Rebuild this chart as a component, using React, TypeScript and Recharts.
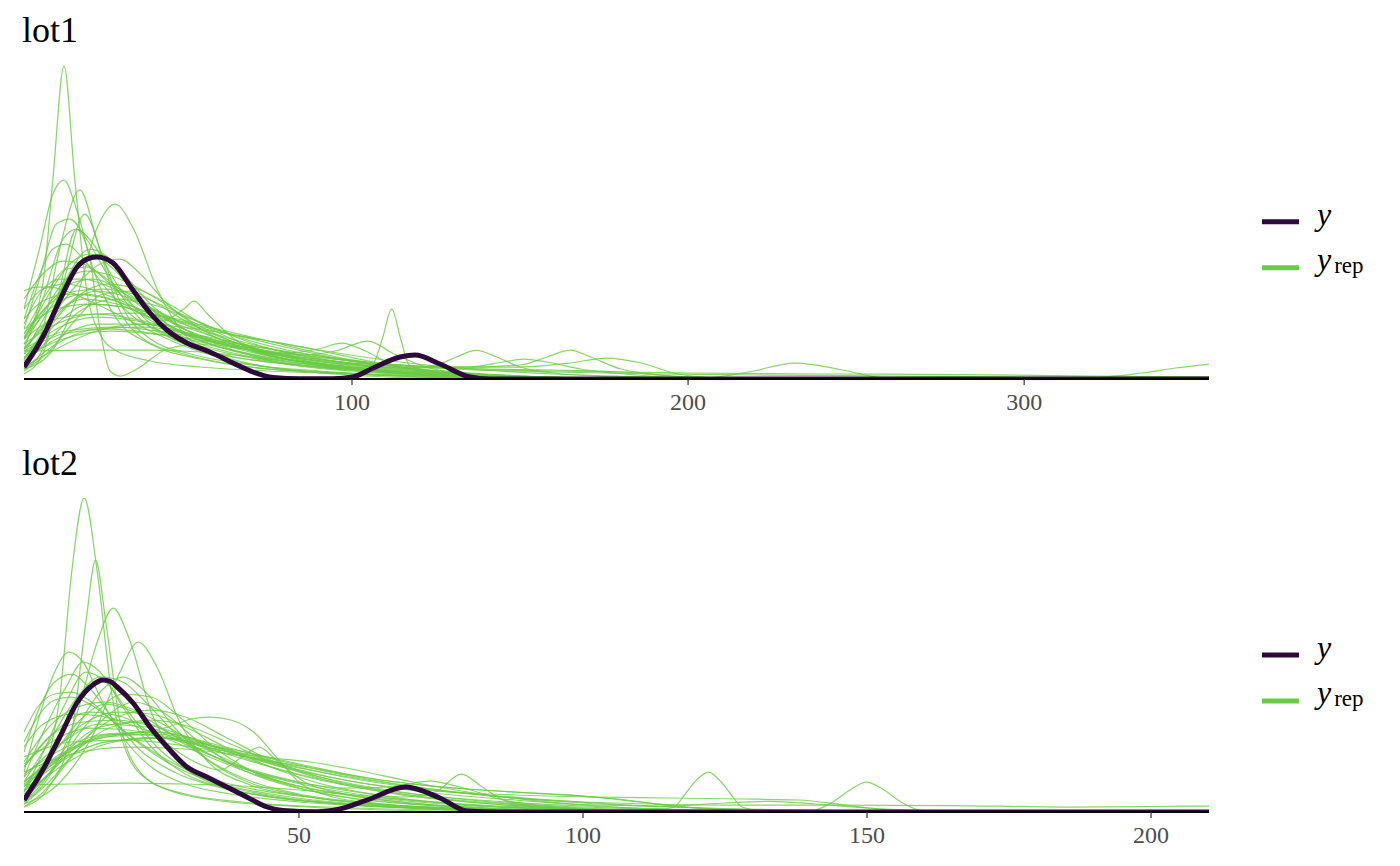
import React from 'react';
import { LineChart, Line, XAxis, YAxis } from 'recharts';

type Pt = [number, number];

const SERIF = '"Liberation Serif", "Times New Roman", serif';
const Y_COLOR = '#2E0A3C';
const REP_COLOR = '#6CCB45';

// panel titles
const panelTitles = ['lot1', 'lot2'];

// x-axis ticks and ranges
const lot1Ticks = [100, 200, 300];
const lot2Ticks = [50, 100, 150, 200];
const lot1Range: [number, number] = [2.4, 355];
const lot2Range: [number, number] = [1.6, 210.2];
const densityTop = 314; // scaled density units

// observed y density, lot1
const lot1Y: Pt[] = [
  [2.4, 12], [8, 42], [13.1, 79], [18.2, 112], [22, 121], [24.1, 122], [26.5, 120.5], [28.9, 116], [34.8, 89], [39.9, 66],
  [44.9, 49], [50.9, 36], [57.7, 27], [64.6, 16], [70.5, 7], [76.5, 1.5], [84.5, 0.3], [94.3, 0.3],
  [100.3, 2], [106.3, 11], [114.3, 22], [118.75, 24], [126.2, 15], [135.1, 2], [141, 0], [200, 0], [355, 0],
];

// replicated densities, lot1
const lot1Rep: Pt[][] = [
  [[2.4, 40], [8, 95], [11, 200], [14.3, 313], [17.5, 200], [21, 90], [25, 45], [30, 28], [40, 18], [55, 12], [75, 8], [100, 5], [130, 2], [170, 0.5], [355, 0]],
  [[2.4, 70], [7, 130], [11, 185], [14.3, 199], [18, 170], [23, 110], [30, 60], [40, 35], [55, 20], [75, 10], [100, 6], [130, 2], [160, 0], [355, 0]],
  [[2.4, 20], [8, 50], [13, 130], [19, 189], [24, 140], [30, 75], [38, 40], [50, 25], [70, 12], [95, 6], [120, 2], [150, 0], [355, 0]],
  [[2.4, 10], [10, 25], [18, 80], [24, 150], [29.5, 175], [35, 150], [42, 90], [50, 45], [60, 25], [75, 12], [95, 5], [120, 1], [150, 0], [355, 0]],
  [[2.4, 28], [20, 29], [40, 29], [55, 27], [65, 24], [80, 18], [100, 10], [130, 3], [160, 1], [200, 0], [355, 0]],
  [[2.4, 88], [6, 92], [10, 92], [15, 88], [22, 78], [30, 65], [40, 48], [50, 33], [60, 22], [75, 12], [95, 6], [120, 2], [150, 0], [355, 0]],
  [[2.4, 30], [8, 80], [14, 140], [18, 150], [23, 135], [30, 95], [40, 55], [50, 35], [65, 22], [85, 14], [105, 8], [130, 3], [160, 0], [355, 0]],
  [[2.4, 50], [7, 100], [12, 155], [16, 160], [21, 140], [28, 100], [37, 60], [48, 38], [60, 25], [80, 15], [100, 9], [125, 4], [160, 0], [355, 0]],
  [[2.4, 15], [8, 45], [15, 100], [22, 130], [28, 120], [35, 90], [45, 55], [58, 35], [75, 20], [95, 12], [115, 6], [140, 2], [170, 0], [355, 0]],
  [[2.4, 60], [6, 95], [11, 130], [15, 135], [20, 120], [27, 90], [35, 62], [45, 45], [58, 30], [75, 18], [95, 10], [120, 4], [150, 0], [355, 0]],
  [[2.4, 40], [9, 80], [16, 115], [22, 125], [29, 110], [37, 80], [47, 55], [60, 38], [78, 22], [100, 12], [120, 6], [145, 2], [180, 0], [355, 0]],
  [[2.4, 80], [8, 105], [14, 118], [20, 115], [27, 100], [35, 78], [45, 55], [55, 38], [70, 25], [90, 15], [110, 8], [135, 3], [165, 0], [355, 0]],
  [[2.4, 25], [10, 70], [18, 110], [25, 125], [32, 105], [40, 75], [50, 50], [62, 32], [80, 18], [100, 10], [125, 4], [160, 0], [355, 0]],
  [[2.4, 55], [7, 85], [13, 100], [20, 100], [28, 92], [38, 75], [50, 55], [62, 38], [78, 22], [98, 12], [120, 6], [150, 2], [190, 0], [355, 0]],
  [[2.4, 70], [8, 90], [15, 95], [22, 90], [30, 80], [40, 65], [52, 50], [65, 36], [82, 22], [100, 13], [125, 6], [155, 2], [200, 0], [355, 0]],
  [[2.4, 10], [8, 30], [14, 95], [20.5, 165], [26, 120], [32, 70], [40, 40], [52, 25], [70, 14], [90, 8], [115, 3], [150, 0], [355, 0]],
  [[2.4, 35], [8, 65], [15, 100], [21, 108], [27, 105], [34, 95], [42, 80], [52, 58], [64, 38], [80, 22], [100, 12], [125, 5], [160, 1], [200, 0], [355, 0]],
  [[2.4, 45], [10, 75], [18, 88], [26, 90], [35, 85], [46, 70], [58, 52], [72, 34], [90, 20], [110, 11], [135, 5], [170, 1], [220, 0], [355, 0]],
  [[2.4, 20], [10, 55], [18, 82], [27, 95], [36, 90], [46, 74], [58, 50], [72, 30], [90, 16], [110, 9], [135, 4], [170, 0], [355, 0]],
  [[2.4, 5], [8, 25], [13, 90], [18, 150], [22, 120], [25, 50], [28, 8], [31, 3], [36, 10], [45, 30], [55, 35], [65, 28], [80, 15], [100, 8], [125, 3], [160, 0], [355, 0]],
  [[2.4, 30], [9, 55], [17, 90], [25, 115], [31, 120], [37, 105], [45, 75], [55, 50], [68, 30], [85, 17], [105, 9], [130, 3], [170, 0], [355, 0]],
  [[2.4, 45], [9, 85], [15, 110], [21, 112], [28, 95], [36, 70], [43, 58], [50, 70], [53, 78], [57, 65], [65, 40], [78, 22], [95, 12], [115, 6], [140, 2], [180, 0], [355, 0]],
  [[2.4, 35], [12, 55], [24, 65], [36, 66], [48, 60], [60, 50], [75, 38], [90, 26], [105, 16], [125, 8], [150, 3], [190, 0], [355, 0]],
  [[2.4, 50], [12, 70], [22, 75], [32, 72], [44, 62], [56, 52], [70, 40], [88, 26], [105, 15], [125, 8], [150, 3], [190, 0], [355, 0]],
  [[2.4, 15], [10, 40], [20, 70], [30, 80], [40, 75], [52, 60], [66, 42], [82, 28], [100, 18], [120, 10], [145, 4], [180, 0], [355, 0]],
  [[2.4, 30], [10, 60], [20, 80], [30, 75], [42, 58], [55, 40], [68, 30], [80, 26], [90, 30], [97, 36], [104, 28], [112, 14], [125, 6], [150, 2], [190, 0], [355, 0]],
  [[2.4, 20], [12, 55], [22, 75], [32, 72], [44, 55], [58, 38], [72, 28], [85, 24], [95, 28], [104.8, 38], [112, 26], [122, 12], [135, 5], [160, 1], [200, 0], [355, 0]],
  [[2.4, 40], [10, 70], [20, 85], [30, 78], [42, 55], [55, 35], [70, 22], [85, 14], [98, 10], [106, 14], [109, 40], [111.8, 70], [114.5, 40], [117, 14], [125, 7], [140, 3], [170, 0], [355, 0]],
  [[2.4, 25], [12, 50], [24, 62], [36, 58], [50, 45], [66, 32], [82, 22], [100, 15], [115, 11], [125, 14], [131, 22], [137, 28.6], [143, 22], [150, 12], [160, 6], [180, 2], [220, 0], [355, 0]],
  [[2.4, 18], [12, 40], [24, 55], [38, 55], [52, 45], [68, 32], [85, 22], [100, 16], [118, 13], [135, 12], [150, 14], [158, 22], [164.9, 29], [171, 22], [180, 10], [195, 3], [220, 0], [355, 0]],
  [[2.4, 40], [12, 60], [24, 65], [38, 58], [52, 44], [68, 30], [85, 20], [100, 14], [118, 11], [135, 12], [145, 17], [151, 20], [158, 17], [168, 10], [185, 4], [210, 0], [355, 0]],
  [[2.4, 10], [12, 35], [24, 50], [38, 52], [54, 44], [72, 32], [90, 22], [110, 15], [130, 12], [150, 12], [165, 16], [175.8, 21], [186, 16], [197, 5], [210, 1], [230, 0], [355, 0]],
  [[2.4, 28], [14, 45], [28, 50], [44, 44], [60, 34], [80, 24], [100, 16], [120, 12], [140, 10], [160, 9], [180, 7], [195, 3], [205, 1], [218, 7], [232, 16], [246, 9], [258, 1], [270, 0], [355, 0]],
  [[2.4, 22], [14, 40], [28, 48], [44, 44], [62, 35], [82, 25], [105, 16], [130, 10], [160, 7], [190, 5], [220, 4], [260, 3], [300, 2], [322, 2], [335, 6], [345, 11], [355, 15]],
  [[2.4, 30], [15, 48], [30, 52], [46, 46], [64, 36], [84, 26], [105, 17], [130, 11], [160, 8], [200, 6], [240, 5], [280, 4.5], [320, 3], [355, 2]],
  [[2.4, 12], [12, 30], [24, 48], [38, 55], [54, 50], [72, 40], [92, 28], [112, 18], [135, 10], [160, 5], [190, 2], [230, 0], [355, 0]],
  [[2.4, 60], [8, 78], [16, 85], [25, 82], [35, 72], [47, 58], [60, 44], [76, 30], [95, 18], [115, 10], [140, 4], [180, 0], [355, 0]],
  [[2.4, 8], [10, 28], [18, 60], [26, 85], [34, 88], [42, 75], [52, 55], [64, 38], [80, 24], [100, 14], [122, 7], [150, 2], [190, 0], [355, 0]],
  [[2.4, 42], [9, 72], [16, 95], [23, 100], [31, 90], [40, 70], [50, 50], [62, 34], [78, 21], [98, 12], [120, 5], [150, 1], [185, 0], [355, 0]],
  [[2.4, 20], [10, 52], [17, 78], [24, 88], [31, 84], [40, 70], [51, 55], [63, 45], [75, 38], [88, 30], [102, 20], [118, 10], [140, 3], [170, 0], [355, 0]],
];

// observed y density, lot2
const lot2Y: Pt[] = [
  [1.6, 12], [4.9, 42], [7.9, 75], [10.9, 109], [13.7, 127], [15.5, 132], [16.8, 130.5], [18, 125], [20.8, 109],
  [23.8, 85], [26.8, 65], [30.3, 45], [33.8, 35], [37.3, 25], [40.8, 15], [44.4, 5], [47.2, 1.5],
  [53.2, 0.3], [57.2, 3], [62, 12], [68.8, 25], [74.8, 14], [79.6, 1], [85, 0], [150, 0], [210.2, 0],
];

// replicated densities, lot2
const lot2Rep: Pt[][] = [
  [[1.6, 15], [5, 40], [8, 120], [10, 240], [12.2, 314], [14.5, 240], [17, 120], [20, 55], [24, 30], [30, 18], [40, 10], [55, 5], [75, 2], [100, 0], [210.2, 0]],
  [[1.6, 5], [6, 25], [10, 80], [12.5, 190], [14.2, 252], [16, 190], [18.5, 90], [22, 40], [27, 22], [35, 12], [48, 6], [65, 2], [90, 0], [210.2, 0]],
  [[1.6, 10], [6, 35], [11, 100], [14.5, 170], [17.3, 204], [20, 175], [24, 100], [29, 50], [35, 28], [45, 15], [60, 7], [80, 2], [100, 0], [210.2, 0]],
  [[1.6, 8], [8, 30], [14, 80], [18.5, 140], [21.7, 170], [25, 145], [29, 90], [34, 50], [41, 28], [52, 15], [68, 6], [90, 1], [110, 0], [210.2, 0]],
  [[1.6, 30], [8, 55], [15, 75], [22, 80], [27, 85], [31, 93], [34.3, 95], [38, 92], [42, 80], [46, 55], [50, 30], [56, 15], [65, 8], [80, 3], [100, 0], [210.2, 0]],
  [[1.6, 45], [7, 80], [13, 100], [19, 95], [25, 75], [31, 52], [36, 42], [40, 55], [43, 65], [46, 52], [51, 30], [58, 18], [68, 10], [82, 4], [100, 0], [210.2, 0]],
  [[1.6, 27], [10, 28], [20, 29], [30, 28], [40, 26], [50, 22], [60, 17], [72, 11], [85, 6], [100, 3], [125, 1], [150, 0], [210.2, 0]],
  [[1.6, 40], [4, 90], [7, 140], [9.5, 160], [12, 150], [15, 115], [19, 75], [24, 45], [30, 28], [38, 18], [50, 10], [65, 5], [85, 1], [110, 0], [210.2, 0]],
  [[1.6, 60], [4, 100], [7, 130], [10, 138], [13, 125], [17, 95], [22, 62], [28, 40], [35, 26], [45, 15], [60, 7], [80, 2], [100, 0], [210.2, 0]],
  [[1.6, 20], [5, 60], [9, 110], [12.5, 140], [16, 130], [20, 100], [25, 65], [31, 40], [38, 25], [48, 14], [62, 7], [80, 2], [100, 0], [210.2, 0]],
  [[1.6, 80], [4, 105], [7, 118], [10, 120], [13, 112], [17, 92], [22, 68], [28, 46], [35, 30], [45, 18], [60, 8], [80, 3], [105, 0], [210.2, 0]],
  [[1.6, 30], [6, 70], [11, 115], [15, 135], [19, 130], [23, 110], [28, 80], [34, 52], [41, 32], [50, 18], [62, 9], [80, 3], [100, 0], [210.2, 0]],
  [[1.6, 50], [6, 85], [11, 105], [16, 110], [21, 102], [26, 88], [32, 68], [39, 48], [47, 30], [57, 18], [70, 9], [88, 3], [110, 0], [210.2, 0]],
  [[1.6, 15], [7, 45], [13, 90], [19, 118], [24, 115], [29, 95], [35, 65], [42, 40], [50, 24], [60, 13], [75, 6], [95, 1], [115, 0], [210.2, 0]],
  [[1.6, 65], [5, 88], [10, 98], [15, 96], [20, 88], [26, 75], [33, 58], [41, 40], [50, 26], [62, 15], [78, 7], [98, 2], [120, 0], [210.2, 0]],
  [[1.6, 25], [6, 55], [12, 88], [18, 100], [24, 98], [30, 85], [37, 65], [45, 45], [54, 28], [65, 16], [80, 7], [100, 2], [125, 0], [210.2, 0]],
  [[1.6, 10], [5, 30], [10, 75], [15, 120], [19, 135], [23, 120], [28, 85], [34, 52], [41, 30], [50, 17], [62, 8], [80, 2], [100, 0], [210.2, 0]],
  [[1.6, 45], [6, 75], [12, 90], [18, 92], [25, 85], [32, 72], [40, 55], [48, 40], [57, 28], [68, 18], [82, 10], [100, 4], [125, 1], [150, 0], [210.2, 0]],
  [[1.6, 35], [5, 80], [9, 125], [12, 150], [15, 140], [19, 105], [24, 65], [30, 38], [37, 24], [47, 14], [60, 7], [80, 2], [100, 0], [210.2, 0]],
  [[1.6, 40], [10, 58], [20, 65], [30, 63], [40, 56], [50, 46], [60, 35], [72, 24], [86, 15], [100, 9], [120, 4], [145, 1], [170, 0], [210.2, 0]],
  [[1.6, 55], [10, 70], [20, 72], [30, 66], [40, 56], [50, 44], [62, 32], [76, 21], [92, 13], [108, 7], [128, 3], [155, 1], [180, 0], [210.2, 0]],
  [[1.6, 20], [8, 55], [15, 85], [22, 90], [30, 70], [38, 48], [48, 32], [58, 24], [66, 25], [73, 31], [79, 24], [86, 12], [95, 5], [110, 1], [130, 0], [210.2, 0]],
  [[1.6, 35], [8, 68], [15, 88], [23, 85], [31, 65], [40, 45], [50, 30], [60, 20], [68, 15], [74, 20], [78.6, 38], [82, 26], [86, 12], [92, 5], [105, 1], [125, 0], [210.2, 0]],
  [[1.6, 25], [8, 55], [16, 75], [25, 80], [35, 66], [45, 48], [56, 32], [68, 20], [80, 12], [92, 7], [105, 4], [114, 3], [116, 5], [118, 18], [120, 32], [122.1, 40], [124, 32], [126, 18], [128, 5], [132, 1], [140, 0], [210.2, 0]],
  [[1.6, 30], [9, 60], [17, 78], [26, 76], [36, 60], [47, 42], [58, 28], [70, 18], [84, 11], [100, 6], [115, 3], [130, 1], [140, 1], [144, 10], [147, 22], [149.9, 30], [153, 22], [156, 10], [160, 1], [170, 0], [210.2, 0]],
  [[1.6, 18], [8, 45], [16, 68], [25, 75], [35, 65], [46, 48], [58, 32], [72, 20], [88, 12], [102, 7], [115, 6], [125, 9], [133, 10.7], [141, 8], [150, 4], [165, 1], [185, 0], [210.2, 0]],
  [[1.6, 30], [8, 58], [16, 75], [25, 78], [35, 66], [46, 50], [58, 35], [72, 23], [88, 14], [105, 9], [125, 7], [145, 7], [165, 6.5], [185, 5], [200, 5.5], [210.2, 6]],
  [[1.6, 22], [8, 50], [16, 70], [26, 74], [36, 62], [48, 44], [60, 30], [74, 21], [88, 17], [102, 15], [115, 14], [128, 13], [138, 12], [146, 7], [152, 3], [158, 0.5], [170, 0], [210.2, 0]],
  [[1.6, 38], [8, 62], [16, 78], [25, 80], [35, 68], [46, 52], [58, 38], [70, 28], [82, 22], [94, 18], [106, 13], [116, 6], [126, 2], [140, 0], [210.2, 0]],
  [[1.6, 28], [8, 52], [16, 70], [26, 74], [37, 64], [50, 48], [62, 34], [75, 25], [88, 20], [100, 16], [110, 10], [120, 4], [135, 1], [150, 0], [210.2, 0]],
  [[1.6, 12], [6, 38], [12, 72], [18, 95], [24, 102], [30, 95], [37, 75], [45, 52], [55, 33], [67, 19], [82, 9], [100, 3], [120, 0], [210.2, 0]],
  [[1.6, 70], [4, 95], [7, 112], [10, 115], [14, 105], [19, 82], [25, 58], [32, 38], [40, 25], [50, 16], [64, 8], [82, 3], [105, 0], [210.2, 0]],
  [[1.6, 5], [5, 20], [10, 55], [16, 95], [21, 110], [26, 100], [32, 72], [39, 45], [47, 28], [57, 16], [70, 8], [88, 2], [110, 0], [210.2, 0]],
  [[1.6, 48], [7, 72], [13, 84], [20, 82], [28, 72], [36, 62], [44, 55], [52, 50], [60, 42], [70, 30], [82, 18], [96, 9], [112, 3], [135, 0], [210.2, 0]],
  [[1.6, 22], [7, 60], [12, 95], [16, 108], [21, 100], [27, 80], [34, 58], [42, 40], [52, 26], [64, 15], [80, 7], [100, 2], [125, 0], [210.2, 0]],
  [[1.6, 8], [6, 30], [11, 62], [17, 85], [24, 92], [31, 85], [38, 68], [46, 48], [56, 30], [68, 17], [84, 8], [104, 2], [125, 0], [210.2, 0]],
];

const legendLabels = ['y', 'rep'];

const toRows = (pts: Pt[]) => pts.map(([x, d]) => ({ x, d }));

const Tick = (props: any) => {
  const { x, y, payload } = props;
  return (
    <text x={x} y={y} dy="0.71em" textAnchor="middle" fontFamily={SERIF} fontSize={24} fill="#4D4D4D">
      {payload.value}
    </text>
  );
};

function Panel({ y, reps, ticks, range, top }: { y: Pt[]; reps: Pt[][]; ticks: number[]; range: [number, number]; top: number }) {
  return (
    <div style={{ position: 'absolute', left: 0, top, width: 1400, height: 433 }}>
      <LineChart width={1400} height={433} margin={{ top: 65, right: 191, bottom: 14, left: 24 }}>
        <XAxis
          type="number"
          dataKey="x"
          domain={range}
          ticks={ticks}
          allowDataOverflow
          interval={0}
          height={40}
          axisLine={{ stroke: '#000', strokeWidth: 2.2 }}
          tickLine={{ stroke: '#333', strokeWidth: 1.2 }}
          tickSize={6}
          tickMargin={8}
          tick={<Tick />}
        />
        <YAxis
          type="number"
          domain={[0, densityTop]}
          allowDataOverflow
          width={0}
          tick={false}
          tickLine={false}
          axisLine={{ stroke: '#000', strokeWidth: 2.2 }}
        />
        {reps.map((c, i) => (
          <Line
            key={'rep' + i}
            data={toRows(c)}
            dataKey="d"
            type="monotone"
            stroke={REP_COLOR}
            strokeOpacity={0.8}
            strokeWidth={1.25}
            dot={false}
            activeDot={false}
            isAnimationActive={false}
          />
        ))}
        <Line
          data={toRows(y)}
          dataKey="d"
          type="monotone"
          stroke={Y_COLOR}
          strokeWidth={5}
          dot={false}
          activeDot={false}
          isAnimationActive={false}
        />
      </LineChart>
    </div>
  );
}

function Overlay() {
  const offsets = [0, 433.4];
  return (
    <svg width={1400} height={866} style={{ position: 'absolute', left: 0, top: 0, pointerEvents: 'none' }}>
      {offsets.map((o, i) => (
        <g key={i}>
          <text x={22} y={42 + o} fontFamily={SERIF} fontSize={36} fill="#000">
            {panelTitles[i]}
          </text>
          <line x1={1262} x2={1299} y1={221.7 + o} y2={221.7 + o} stroke={Y_COLOR} strokeWidth={5} />
          <line x1={1262} x2={1299} y1={267.7 + o} y2={267.7 + o} stroke={REP_COLOR} strokeWidth={5} />
          <text x={1317} y={225 + o} fontFamily={SERIF} fontStyle="italic" fontSize={32} fill="#000">
            {legendLabels[0]}
          </text>
          <text x={1317} y={269.5 + o} fontFamily={SERIF} fontStyle="italic" fontSize={32} fill="#000">
            {legendLabels[0]}
            <tspan fontStyle="normal" fontSize={23} dx={3} dy={3}>
              {legendLabels[1]}
            </tspan>
          </text>
        </g>
      ))}
    </svg>
  );
}

export default function App() {
  return (
    <div style={{ position: 'absolute', left: 0, top: 0, width: 1400, height: 866, background: '#fff', overflow: 'hidden' }}>
      <Panel y={lot1Y} reps={lot1Rep} ticks={lot1Ticks} range={lot1Range} top={0} />
      <Panel y={lot2Y} reps={lot2Rep} ticks={lot2Ticks} range={lot2Range} top={433.4} />
      <Overlay />
    </div>
  );
}
